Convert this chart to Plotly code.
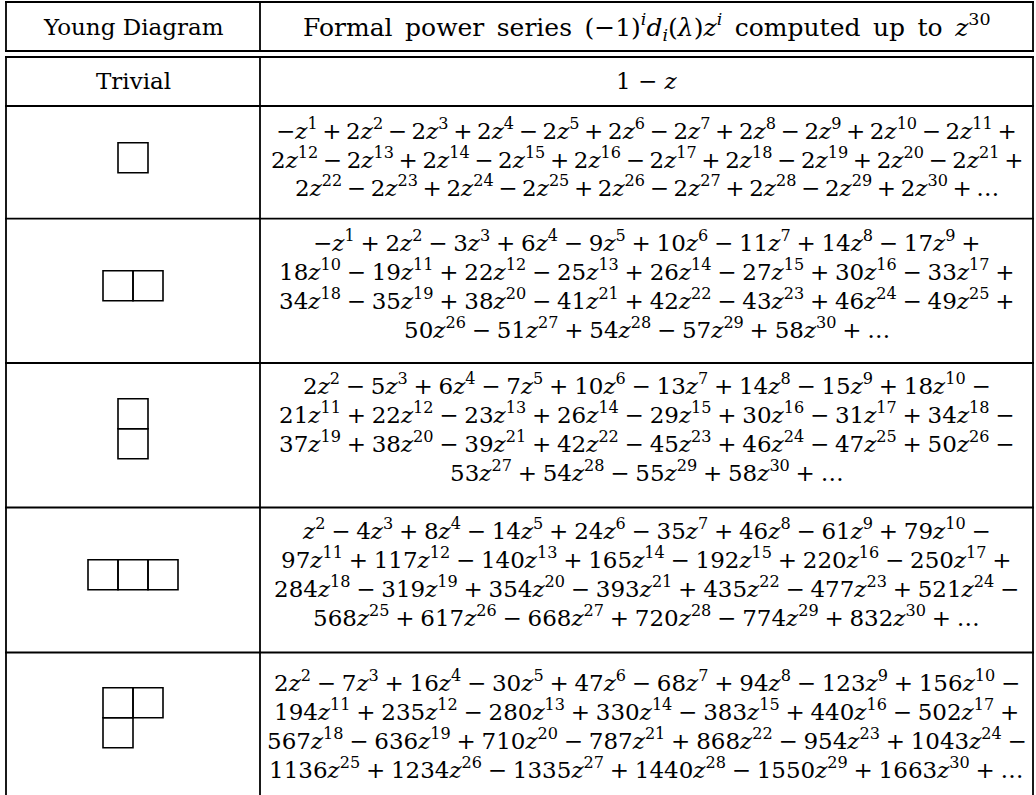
import plotly.graph_objects as go

# Young diagrams given by their row lengths
diagrams = [[1], [2], [1, 1], [3], [2, 1]]

# exponent of the first listed coefficient for each diagram
first_exp = [1, 1, 2, 2, 2]

# signed coefficients (-1)^i d_i(lambda)
coef_box = [-1, 2, -2, 2, -2, 2, -2, 2, -2, 2, -2, 2, -2, 2, -2,
            2, -2, 2, -2, 2, -2, 2, -2, 2, -2, 2, -2, 2, -2, 2]
coef_row2 = [-1, 2, -3, 6, -9, 10, -11, 14, -17, 18, -19, 22, -25, 26, -27,
             30, -33, 34, -35, 38, -41, 42, -43, 46, -49, 50, -51, 54, -57, 58]
coef_col2 = [2, -5, 6, -7, 10, -13, 14, -15, 18, -21, 22, -23, 26, -29, 30,
             -31, 34, -37, 38, -39, 42, -45, 46, -47, 50, -53, 54, -55, 58]
coef_row3 = [1, -4, 8, -14, 24, -35, 46, -61, 79, -97, 117, -140, 165, -192, 220,
             -250, 284, -319, 354, -393, 435, -477, 521, -568, 617, -668, 720, -774, 832]
coef_hook = [2, -7, 16, -30, 47, -68, 94, -123, 156, -194, 235, -280, 330, -383, 440,
             -502, 567, -636, 710, -787, 868, -954, 1043, -1136, 1234, -1335, 1440, -1550, 1663]
coeffs = [coef_box, coef_row2, coef_col2, coef_row3, coef_hook]

# exponents that start a new printed line
breaks = [[12, 22], [10, 18, 26], [11, 19, 27], [11, 18, 25], [11, 18, 25]]

header_left = "Young Diagram"
header_right = ("Formal\u2002power\u2002series\u2002(−1)<sup><i>i</i></sup><i>d</i><sub><i>i</i></sub>"
                "(<i>λ</i>)<i>z</i><sup><i>i</i></sup>\u2002computed\u2002up\u2002to\u2002"
                "<i>z</i><sup>30</sup>")
trivial_left = "Trivial"
trivial_right = "1 − <i>z</i>"

# table geometry (pixels)
W, H = 1036, 795
XL, XM, XR = 6, 260, 1033
row_bounds = [106, 218.7, 363, 507.5, 652.5]
text_mid = [157.5, 284.5, 427.5, 572.5, 724.5]
box_mid = [157.7, 285.8, 428.8, 574.8, 717.7]
Y_BOTTOM = 800
CELL = 30
FONT = "DejaVu Serif"
FS = 23
LINE_GAP = 28.8
LW = 1.8
# space round binary operators; the first row has many short terms, so tighter
row_space = ["\u2009", "\u2005", "\u2005", "\u2005", "\u2005"]


def term(c, e, first):
    z = "<i>z</i><sup>%d</sup>" % e
    num = "" if abs(c) == 1 else str(abs(c))
    body = num + z
    if first and c < 0:
        body = "−" + body
    return body


def series_lines(cs, e0, brk, sp):
    lines, cur = [], ""
    for k, c in enumerate(cs):
        e = e0 + k
        if k == 0:
            cur = term(c, e, True)
            continue
        op = "+" if c > 0 else "−"
        if e in brk:
            lines.append(cur + sp + op)
            cur = term(c, e, False)
        else:
            cur += sp + op + sp + term(c, e, False)
    lines.append(cur + sp + "+" + sp + "…")
    return lines


fig = go.Figure()
shapes = []
line_style = dict(color="black", width=LW)

# horizontal rules
for y in [2, 51, 57] + row_bounds:
    shapes.append(dict(type="line", x0=XL - 1, x1=XR + 1, y0=y, y1=y, line=line_style))
# vertical rules (broken at the double rule)
for x in [XL, XM, XR]:
    shapes.append(dict(type="line", x0=x, x1=x, y0=2, y1=51, line=line_style))
    shapes.append(dict(type="line", x0=x, x1=x, y0=57, y1=Y_BOTTOM, line=line_style))

annotations = []


def add_text(x, y, s, size=FS):
    annotations.append(dict(x=x, y=y, xref="x", yref="y", text=s, showarrow=False,
                            xanchor="center", yanchor="middle",
                            font=dict(family=FONT, size=size, color="black")))


cx_left = (XL + XM) / 2
cx_right = (XM + XR) / 2
add_text(cx_left, 27, header_left)
add_text(cx_right, 27, header_right, 25)
add_text(cx_left, 81, trivial_left)
add_text(cx_right, 81, trivial_right)

for i, parts in enumerate(diagrams):
    # young diagram boxes
    width = max(parts) * CELL
    by0 = box_mid[i] - len(parts) * CELL / 2
    bx0 = cx_left - width / 2
    for r, n in enumerate(parts):
        for c in range(n):
            shapes.append(dict(type="rect", x0=bx0 + c * CELL, x1=bx0 + (c + 1) * CELL,
                               y0=by0 + r * CELL, y1=by0 + (r + 1) * CELL,
                               line=dict(color="black", width=1.6)))
    # series text
    lines = series_lines(coeffs[i], first_exp[i], breaks[i], row_space[i])
    n = len(lines)
    for j, s in enumerate(lines):
        add_text(cx_right, text_mid[i] + (j - (n - 1) / 2) * LINE_GAP, s)

fig.update_layout(
    width=W, height=H,
    margin=dict(l=0, r=0, t=0, b=0),
    paper_bgcolor="white", plot_bgcolor="white",
    xaxis=dict(range=[0, W], visible=False, fixedrange=True),
    yaxis=dict(range=[H, 0], visible=False, fixedrange=True),
    shapes=shapes, annotations=annotations,
    showlegend=False,
)

# drop the default page margin so the table sits at the window origin
fig.write_html("out.html", config={"displayModeBar": False},
               post_script="document.body.style.margin='0';")
